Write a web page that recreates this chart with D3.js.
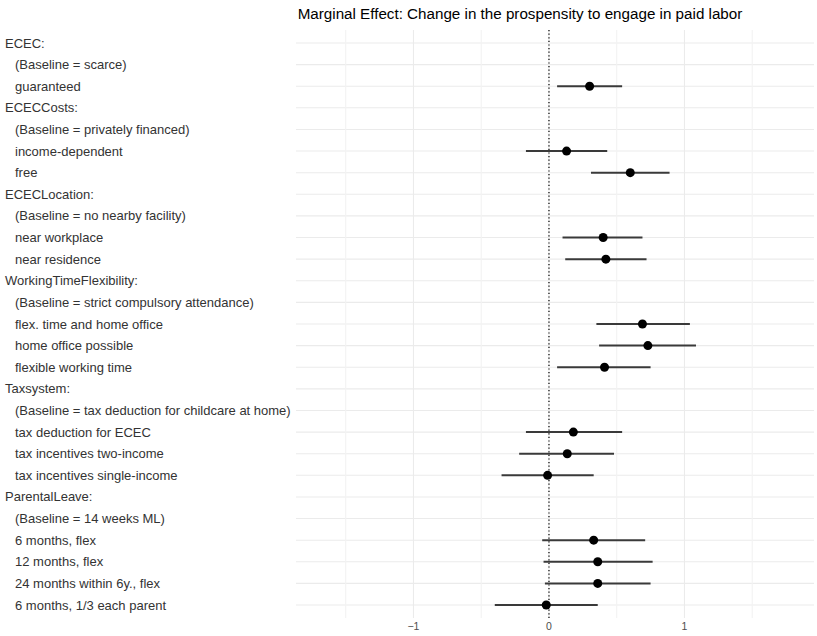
<!DOCTYPE html>
<html>
<head>
<meta charset="utf-8">
<script src="https://cdn.jsdelivr.net/npm/d3@7"></script>
<style>
  body { margin: 0; background: #fff; }
  svg { display: block; font-family: "Liberation Sans", Arial, sans-serif; }
</style>
</head>
<body>
<svg id="chart" width="817" height="636"></svg>
<script>
// ---- Data ----
const rowLabels = [
  "ECEC:", "(Baseline = scarce)", "guaranteed",
  "ECECCosts:", "(Baseline = privately financed)", "income-dependent", "free",
  "ECECLocation:", "(Baseline = no nearby facility)", "near workplace", "near residence",
  "WorkingTimeFlexibility:", "(Baseline = strict compulsory attendance)", "flex. time and home office", "home office possible", "flexible working time",
  "Taxsystem:", "(Baseline = tax deduction for childcare at home)", "tax deduction for ECEC", "tax incentives two-income", "tax incentives single-income",
  "ParentalLeave:", "(Baseline = 14 weeks ML)", "6 months, flex", "12 months, flex", "24 months within 6y., flex", "6 months, 1/3 each parent"
];
const isHeader = [
  1,0,0, 1,0,0,0, 1,0,0,0, 1,0,0,0,0, 1,0,0,0,0, 1,0,0,0,0,0
];
const estLabels = [
  "guaranteed", "income-dependent", "free", "near workplace", "near residence",
  "flex. time and home office", "home office possible", "flexible working time",
  "tax deduction for ECEC", "tax incentives two-income", "tax incentives single-income",
  "6 months, flex", "12 months, flex", "24 months within 6y., flex", "6 months, 1/3 each parent"
];
const estimates = [0.30, 0.13, 0.60, 0.40, 0.42, 0.69, 0.73, 0.41, 0.18, 0.135, -0.01, 0.33, 0.36, 0.36, -0.02];
const ciLower   = [0.06, -0.17, 0.31, 0.10, 0.12, 0.35, 0.37, 0.06, -0.17, -0.22, -0.35, -0.05, -0.04, -0.03, -0.40];
const ciUpper   = [0.54, 0.43, 0.89, 0.69, 0.72, 1.04, 1.085, 0.75, 0.54, 0.48, 0.33, 0.71, 0.765, 0.75, 0.36];
const xTicks = [-1, 0, 1];
const xGrid = [-1.5, -1, -0.5, 0, 0.5, 1, 1.5];
const title = "Marginal Effect: Change in the prospensity to engage in paid labor";

// ---- Layout ----
const svg = d3.select("#chart");
const panel = { left: 296, right: 814, top: 30, bottom: 618 };

const x = d3.scaleLinear().domain([-1.867, 1.956]).range([panel.left, panel.right]);
const y = d3.scalePoint().domain(rowLabels).range([panel.top, panel.bottom]).padding(0.6);

// Gridlines
svg.append("g").selectAll("line.h").data(rowLabels).join("line")
  .attr("x1", panel.left).attr("x2", panel.right)
  .attr("y1", d => y(d)).attr("y2", d => y(d))
  .attr("stroke", "#ebebeb").attr("stroke-width", 1.1);

svg.append("g").selectAll("line.v").data(xGrid).join("line")
  .attr("x1", d => x(d)).attr("x2", d => x(d))
  .attr("y1", panel.top).attr("y2", panel.bottom)
  .attr("stroke", d => Number.isInteger(d) ? "#ebebeb" : "#f2f2f2").attr("stroke-width", 1.1);

// Zero reference line
svg.append("line")
  .attr("x1", x(0)).attr("x2", x(0))
  .attr("y1", panel.top).attr("y2", panel.bottom)
  .attr("stroke", "#000").attr("stroke-width", 1.2)
  .attr("stroke-dasharray", "1.2,2.4");

// Row labels
svg.append("g").selectAll("text").data(rowLabels).join("text")
  .attr("x", (d, i) => isHeader[i] ? 5 : 15)
  .attr("y", d => y(d))
  .attr("dy", "0.35em")
  .attr("font-size", 13)
  .attr("fill", "#333")
  .text(d => d);

// Error bars
const pts = estLabels.map((d, i) => ({ label: d, est: estimates[i], lo: ciLower[i], hi: ciUpper[i] }));
svg.append("g").selectAll("line").data(pts).join("line")
  .attr("x1", d => x(d.lo)).attr("x2", d => x(d.hi))
  .attr("y1", d => y(d.label)).attr("y2", d => y(d.label))
  .attr("stroke", "#3a3a3a").attr("stroke-width", 2);

svg.append("g").selectAll("circle").data(pts).join("circle")
  .attr("cx", d => x(d.est)).attr("cy", d => y(d.label))
  .attr("r", 4.5).attr("fill", "#000");

// X axis tick labels
svg.append("g").selectAll("text").data(xTicks).join("text")
  .attr("x", d => x(d)).attr("y", 630)
  .attr("text-anchor", "middle")
  .attr("font-size", 10.5)
  .attr("fill", "#4d4d4d")
  .text(d => d < 0 ? "\u2212" + Math.abs(d) : d);

// Title
svg.append("text")
  .attr("x", 520).attr("y", 19)
  .attr("text-anchor", "middle")
  .attr("font-size", 15.2)
  .attr("fill", "#000")
  .text(title);
</script>
</body>
</html>
